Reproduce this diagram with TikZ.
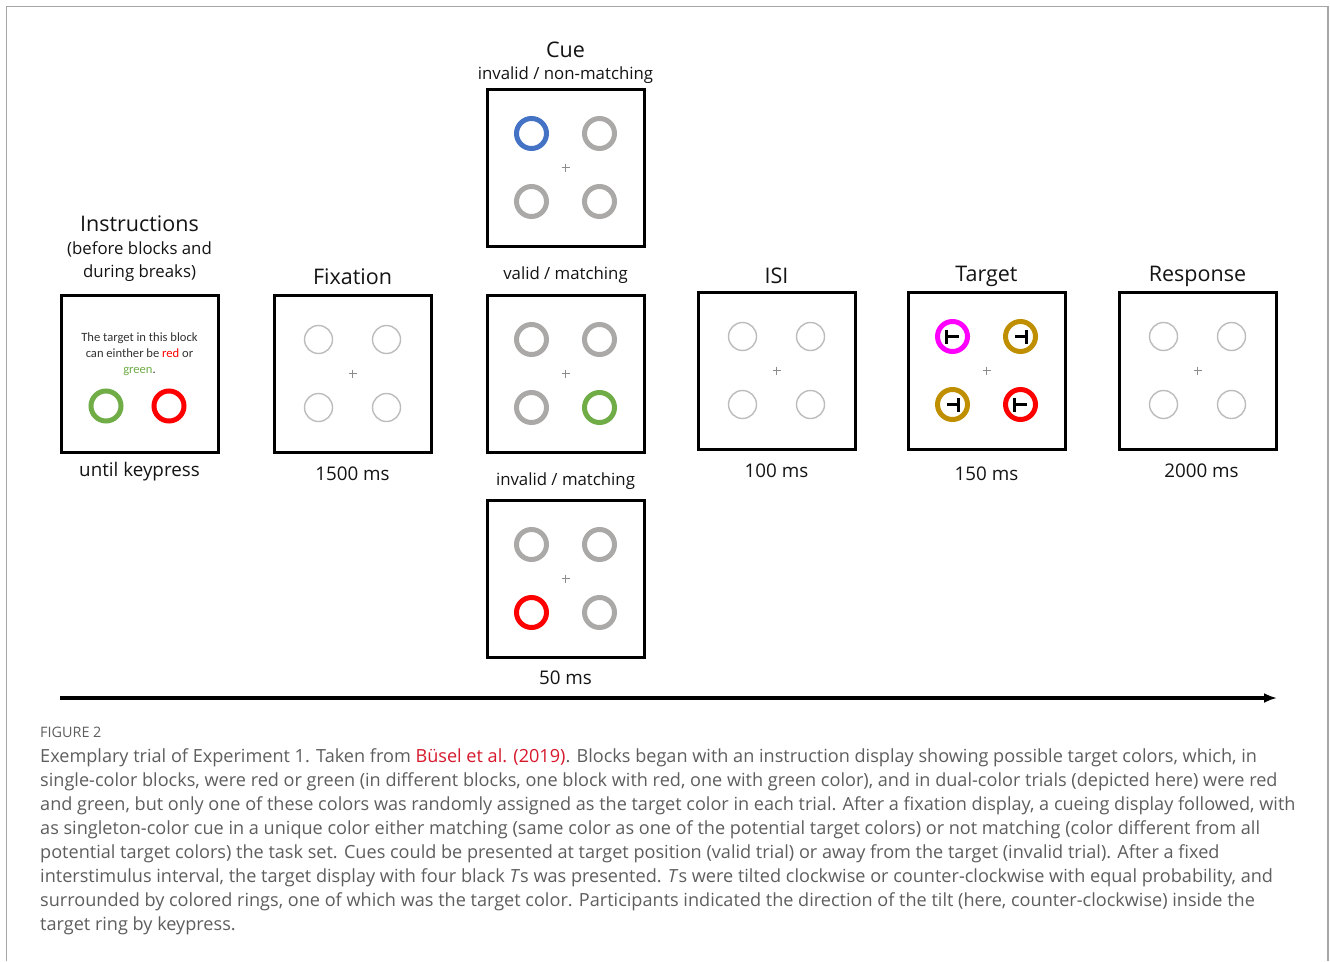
\documentclass[tikz,border=0pt]{standalone}
\usepackage{fontspec}
\setmainfont{Open Sans}
\newfontfamily\capfont{Open Sans}
\newfontfamily\slidefont{Carlito}
\usetikzlibrary{arrows.meta,calc}

\definecolor{ringgray}{HTML}{ABA8A8}
\definecolor{thingray}{HTML}{BDBBBB}
\definecolor{cueblue}{HTML}{4472C4}
\definecolor{okgreen}{HTML}{70AD47}
\definecolor{pure red}{HTML}{FF0000}
\definecolor{tmagenta}{HTML}{FF00FF}
\definecolor{tgold}{HTML}{BF8F00}
\definecolor{captext}{HTML}{5E5E5E}
\definecolor{citered}{HTML}{D7192D}
\definecolor{framegray}{HTML}{A6A6A6}

\tikzset{
  screen/.style={draw=black, line width=3pt, minimum width=157pt, minimum height=157pt, inner sep=0pt, fill=white},
  title/.style={font=\fontsize{21.5}{24}\selectfont, text=black!92},
  sublabel/.style={font=\fontsize{16.8}{20}\selectfont, text=black!92},
  duration/.style={font=\fontsize{18.8}{22}\selectfont, text=black!92},
  thickring/.style={draw=#1, line width=5pt},
  thinring/.style={draw=thingray, line width=1.4pt},
  crossline/.style={draw=gray!90, line width=0.8pt},
  tbar/.style={line width=2.6pt, black}
}

% small grey fixation cross
\newcommand{\fixcross}[1]{%
  \draw[crossline] ($(#1)+(-4,0)$) -- ($(#1)+(4,0)$);
  \draw[crossline] ($(#1)+(0,-4)$) -- ($(#1)+(0,4)$);}

% four thin placeholder rings and the fixation cross in a screen
\newcommand{\thinquad}[1]{%
  \foreach \dx in {-34,34}{\foreach \dy in {-34,34}{
    \draw[thinring] ($(#1)+(\dx,\dy)$) circle (14);}}%
  \fixcross{#1}}

% four thick rings, the colour of each given in reading order
\newcommand{\thickquad}[5]{%
  \draw[thickring=#2] ($(#1)+(-34,-34)$) circle (15);
  \draw[thickring=#3] ($(#1)+(34,-34)$) circle (15);
  \draw[thickring=#4] ($(#1)+(-34,34)$) circle (15);
  \draw[thickring=#5] ($(#1)+(34,34)$) circle (15);
  \fixcross{#1}}

% a T lying on its side; #2 = +1 bar on the left, -1 bar on the right
\newcommand{\sideT}[2]{%
  \draw[tbar] ($(#1)+(-6*#2,-7)$) -- ($(#1)+(-6*#2,7)$);
  \draw[tbar] ($(#1)+(-6*#2,0)$) -- ($(#1)+(6*#2,0)$);}

\begin{document}
\begin{tikzpicture}[x=1pt, y=-1pt]
\useasboundingbox (0,0) rectangle (1330,961);
\fill[white] (0,0) rectangle (1330,961);
% page frame
\draw[framegray, line width=1.5pt] (6.5,961) -- (6.5,6.5) -- (1328,6.5) -- (1328,961);

% ---- screens ----
\node[screen] (instr) at (139.5,373.5) {};
\node[screen] (fix)   at (352.5,373.5) {};
\node[screen] (cueA)  at (565.5,167.5) {};
\node[screen] (cueB)  at (565.5,373.5) {};
\node[screen] (cueC)  at (565.5,578.5) {};
\node[screen] (isi)   at (776.5,370.5) {};
\node[screen] (targ)  at (986.5,370.5) {};
\node[screen] (resp)  at (1197.5,370.5) {};

% ---- titles and durations ----
\node[title] (tInstr) at (139.5,224) {Instructions};
\node[sublabel, align=center, font=\fontsize{16.8}{23}\selectfont] (tInstr2) at (139.5,262) {(before blocks and\\during breaks)};
\node[duration] (dInstr) at (139.5,472) {until keypress};

\node[title] (tFix) at (352.5,277) {Fixation};
\node[duration] (dFix) at (352.5,474) {1500 ms};

\node[title] (tCue) at (565.5,50) {Cue};
\node[sublabel] (lCueA) at (565.5,75) {invalid / non-matching};
\node[sublabel] (lCueB) at (565.5,275) {valid / matching};
\node[sublabel] (lCueC) at (565.5,481) {invalid / matching};
\node[duration] (dCue) at (565.5,678) {50 ms};

\node[title] (tIsi) at (776.5,276) {ISI};
\node[duration] (dIsi) at (776.5,471) {100 ms};

\node[title] (tTarg) at (986.5,276) {Target};
\node[duration] (dTarg) at (986.5,474) {150 ms};

\node[title] (tResp) at (1197.5,276) {Response};
\node[duration] (dResp) at (1201.5,471) {2000 ms};

% ---- instruction screen content ----
\node[font=\slidefont\fontsize{12.6}{15.8}\selectfont, align=center, text=black!80] (itext) at (139.5,354)
  {The target in this block\\can einther be \textcolor{pure red}{red} or\\\textcolor{okgreen}{green}.};
\draw[thickring=okgreen] (106,406) circle (15);
\draw[thickring=pure red] (169,406) circle (15);

% ---- fixation, ISI and response screens ----
\thinquad{fix}
\thinquad{isi}
\thinquad{resp}

% ---- cue screens ----
\thickquad{cueA}{cueblue}{ringgray}{ringgray}{ringgray}
\thickquad{cueB}{ringgray}{ringgray}{ringgray}{okgreen}
\thickquad{cueC}{ringgray}{ringgray}{pure red}{ringgray}

% ---- target screen ----
\thickquad{targ}{tmagenta}{tgold}{tgold}{pure red}
\sideT{$(targ)+(-34,-34)$}{1}
\sideT{$(targ)+(34,-34)$}{-1}
\sideT{$(targ)+(-34,34)$}{-1}
\sideT{$(targ)+(34,34)$}{1}

% ---- time axis ----
\coordinate (tStart) at (60,698);
\coordinate (tEnd) at (1277,698);
\draw[line width=3.2pt, -{Latex[length=13pt,width=10pt]}] (tStart) -- (tEnd);

% ---- caption ----
\node[anchor=north west, inner sep=0pt, text=captext, font=\capfont\fontsize{14.4}{14}\selectfont] (figno) at (40,727) {FIGURE 2};
\node[anchor=north west, inner sep=0pt, align=left, text=captext, font=\capfont\fontsize{18.1}{24}\selectfont] (caption) at (40,748)
{Exemplary trial of Experiment 1. Taken from \textcolor{citered}{Büsel et al. (2019)}. Blocks began with an instruction display showing possible target colors, which, in\\
single-color blocks, were red or green (in different blocks, one block with red, one with green color), and in dual-color trials (depicted here) were red\\
and green, but only one of these colors was randomly assigned as the target color in each trial. After a fixation display, a cueing display followed, with\\
as singleton-color cue in a unique color either matching (same color as one of the potential target colors) or not matching (color different from all\\
potential target colors) the task set. Cues could be presented at target position (valid trial) or away from the target (invalid trial). After a fixed\\
interstimulus interval, the target display with four black \textit{T}s was presented. \textit{T}s were tilted clockwise or counter-clockwise with equal probability, and\\
surrounded by colored rings, one of which was the target color. Participants indicated the direction of the tilt (here, counter-clockwise) inside the\\
target ring by keypress.};
\end{tikzpicture}
\end{document}
